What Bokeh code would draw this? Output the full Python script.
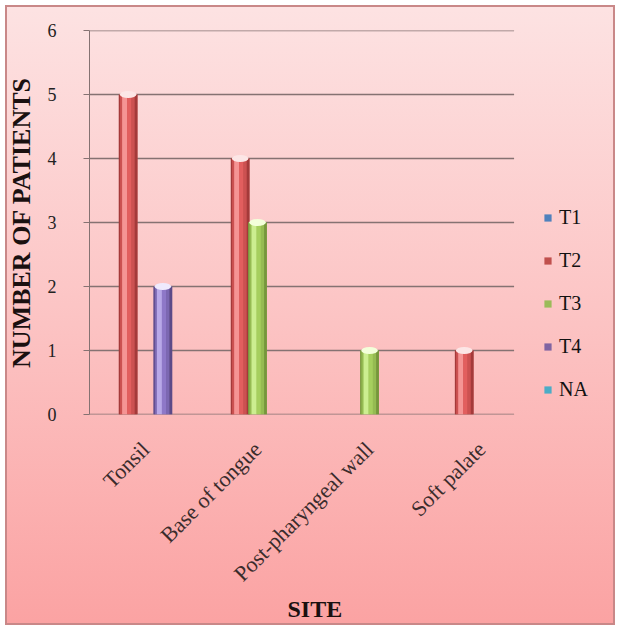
import math

from bokeh.plotting import figure
from bokeh.models import (ColumnDataSource, Range1d, Legend, LegendItem,
                          CDSView, BooleanFilter, FixedTicker, Title)
from bokeh.transform import dodge
from bokeh.embed import file_html
from bokeh.resources import INLINE

# ---- data -------------------------------------------------------------
sites = ["Tonsil", "Base of tongue", "Post-pharyngeal wall", "Soft palate"]
stages = ["T1", "T2", "T3", "T4", "NA"]
t1_counts = [0, 0, 0, 0]
t2_counts = [5, 4, 0, 1]
t3_counts = [0, 3, 1, 0]
t4_counts = [2, 0, 0, 0]
na_counts = [0, 0, 0, 0]
y_ticks = [0, 1, 2, 3, 4, 5, 6]

counts = {"T1": t1_counts, "T2": t2_counts, "T3": t3_counts,
          "T4": t4_counts, "NA": na_counts}

# category centres on a numeric axis (one unit per site)
site_pos = [i + 0.5 for i in range(len(sites))]

# ---- styling ----------------------------------------------------------
SERIF = "Liberation Serif"
# per stage: legend swatch, dark edge, body, highlight, top cap
palette = {
    "T1": ("#4F81BD", "#34598C", "#5B8FD0", "#92B8EA", "#DCE8F8"),
    "T2": ("#C0504D", "#A43A3A", "#E25E5E", "#F59494", "#FCE6E6"),
    "T3": ("#9BBB59", "#76963C", "#A6CF5E", "#CCEE90", "#F3FFDA"),
    "T4": ("#8064A2", "#5C4A88", "#8E78C8", "#B8A8E8", "#EFEAFD"),
    "NA": ("#4BACC6", "#2F8299", "#55B8D2", "#92D8EA", "#E0F6FC"),
}

SLOT = 0.155      # spacing between stage slots inside a site
BAR_W = 0.165     # cylinder width (site units)
GRID_END = 3.79   # back-wall gridlines stop short of the last site edge
X_END = 4.74      # frame runs on to the right edge so the key sits inside it


def mix(c1, c2, t):
    a = [int(c1[i:i + 2], 16) for i in (1, 3, 5)]
    b = [int(c2[i:i + 2], 16) for i in (1, 3, 5)]
    return "#" + "".join(f"{round(x + (y - x) * t):02x}" for x, y in zip(a, b))


p = figure(
    width=620, height=630,
    x_range=Range1d(0, X_END),
    y_range=Range1d(0, 6),
    output_backend="svg", toolbar_location=None,
    min_border_left=89, min_border_right=0,
    min_border_top=30, min_border_bottom=216,
)
p.background_fill_alpha = 0
p.border_fill_alpha = 0
p.outline_line_color = None
p.styles = {
    "background": "linear-gradient(to bottom, #fde3e3 0%, #fcc4c4 50%, #fba2a2 100%)",
    "box-shadow": "inset 0 0 0 5px #ffffff, inset 0 0 0 7px #c98888",
}
p.xgrid.grid_line_color = None
p.ygrid.grid_line_color = None

# horizontal gridlines on the back wall (the 0 line doubles as the floor edge)
grid_src = ColumnDataSource(dict(y=y_ticks))
p.segment(x0=0, x1=GRID_END, y0="y", y1="y", source=grid_src,
          line_color="#857272", line_width=1.3)

# cylinder shading profile across the bar width: (start, end, tone)
profile = [
    (0.00, 0.07, "dark"),
    (0.07, 0.18, "body_dark"),
    (0.18, 0.45, "light"),
    (0.45, 0.68, "body"),
    (0.68, 0.86, "body_dark"),
    (0.86, 1.00, "dark"),
]

legend_renderers = {}
for i, stage in enumerate(stages):
    vals = counts[stage]
    src = ColumnDataSource(dict(x=site_pos, v=vals))
    sw, dark, body, light, cap = palette[stage]
    tones = {"dark": dark, "body_dark": mix(body, dark, 0.35),
             "light": light, "body": body}
    slot_off = (i - 2) * SLOT

    legend_renderers[stage] = p.vbar(
        x=dodge("x", slot_off), top="v", width=BAR_W,
        source=src, fill_color=sw, line_color=None)

    for s, e, tone in profile:
        off = slot_off - BAR_W / 2 + (s + e) / 2 * BAR_W
        p.vbar(x=dodge("x", off), top="v",
               width=(e - s) * BAR_W + 0.002, source=src,
               fill_color=tones[tone], line_color=None)

    view = CDSView(filter=BooleanFilter([v > 0 for v in vals]))
    p.ellipse(x=dodge("x", slot_off), y="v",
              width=BAR_W * 0.9, height=7, height_units="screen",
              source=src, view=view, fill_color=cap, line_color=None)

# ---- axes -------------------------------------------------------------
p.yaxis.ticker = FixedTicker(ticks=y_ticks)
p.yaxis.axis_label = "NUMBER OF PATIENTS"
p.yaxis.axis_label_text_font = SERIF
p.yaxis.axis_label_text_font_style = "bold"
p.yaxis.axis_label_text_font_size = "26px"
p.yaxis.axis_label_text_color = "#1a1010"
p.yaxis.axis_label_standoff = 9
p.yaxis.major_label_text_font = SERIF
p.yaxis.major_label_text_font_size = "18px"
p.yaxis.major_label_text_color = "#222222"
p.yaxis.major_label_standoff = 27
p.yaxis.major_tick_out = 6
p.yaxis.major_tick_in = 0
p.yaxis.minor_tick_line_color = None
p.yaxis.axis_line_color = "#857272"
p.yaxis.major_tick_line_color = "#857272"

p.xaxis.ticker = FixedTicker(ticks=site_pos)
p.xaxis.major_label_overrides = {pos: name for pos, name in zip(site_pos, sites)}
p.xaxis.major_label_text_font = SERIF
p.xaxis.major_label_text_font_size = "22px"
p.xaxis.major_label_text_color = "#3a2c2c"
p.xaxis.major_label_orientation = math.pi / 4
p.xaxis.major_label_standoff = 25
p.xaxis.axis_line_color = None
p.xaxis.major_tick_line_color = None
p.xaxis.minor_tick_line_color = None

# x-axis caption, centred under the four site groups
site_title = Title(text="SITE", align="left", offset=198,
                   text_font=SERIF, text_font_style="bold",
                   text_font_size="24px", text_color="#1a1010",
                   standoff=-8)
p.add_layout(site_title, "below")

# ---- legend -----------------------------------------------------------
legend = Legend(
    items=[LegendItem(label=s, renderers=[legend_renderers[s]]) for s in stages],
    location=(454, 13),
    orientation="vertical",
    glyph_width=9, glyph_height=9,
    label_height=20, spacing=20,
    label_standoff=7,
    label_text_font=SERIF, label_text_font_size="20px",
    label_text_color="#111111",
    padding=0, margin=0,
    border_line_color=None, background_fill_alpha=0,
)
p.add_layout(legend)

open("out.html", "w").write(file_html(p, INLINE))
